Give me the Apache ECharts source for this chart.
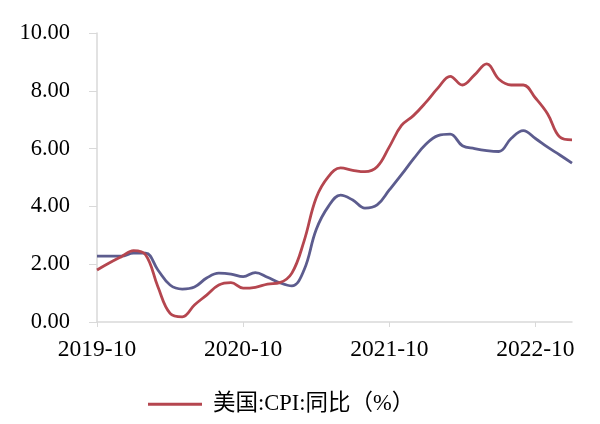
<!DOCTYPE html>
<html>
<head>
<meta charset="utf-8">
<script src="https://cdn.jsdelivr.net/npm/echarts@6/dist/echarts.min.js"></script>
<style>html,body{margin:0;padding:0;background:#fff}#c{width:600px;height:424px}</style>
</head>
<body>
<div id="c"></div>
<script>
const months = [];
(function(){let y=2019,m=10;for(let i=0;i<40;i++){months.push(y+'-'+(m<10?'0'+m:m));m++;if(m>12){m=1;y++;}}})();
const cpiName = '美国:CPI:同比（%）';
const cpi = [1.8,2.04,2.26,2.47,2.32,1.22,0.3,0.18,0.59,0.93,1.28,1.36,1.17,1.2,1.31,1.36,1.69,2.8,4.3,5.03,5.33,5.25,5.2,5.37,6.06,6.8,7.15,7.6,8.1,8.5,8.2,8.55,8.93,8.4,8.2,8.2,7.75,7.2,6.4,6.3];
const core = [2.28,2.28,2.28,2.38,2.38,1.8,1.28,1.14,1.21,1.52,1.69,1.66,1.57,1.71,1.55,1.36,1.25,1.8,3.2,4.0,4.39,4.22,3.94,4.05,4.57,5.1,5.65,6.15,6.45,6.5,6.1,6.0,5.93,5.9,6.35,6.62,6.35,6.05,5.78,5.5];
const yTicks = [0,2,4,6,8,10];
const font = '"Liberation Serif","Times New Roman","Noto Sans CJK SC",serif';
const chart = echarts.init(document.getElementById('c'));
chart.setOption({
  animation:false,
  grid:{left:97,right:28,top:33,bottom:102},
  legend:{data:[cpiName],left:143,top:388,icon:'rect',itemWidth:54,itemHeight:3,
    textStyle:{fontFamily:font,fontSize:22.5,color:'#000',padding:[0,0,0,6]}},
  xAxis:{type:'category',data:months,boundaryGap:false,
    axisLine:{lineStyle:{color:'#d9d9d9',width:1.5}},
    axisTick:{interval:11,length:5,lineStyle:{color:'#d9d9d9'}},
    axisLabel:{interval:11,margin:16,fontFamily:font,fontSize:23.5,color:'#000'}},
  yAxis:{type:'value',min:yTicks[0],max:yTicks[yTicks.length-1],interval:2,
    axisLine:{show:true,lineStyle:{color:'#d9d9d9',width:1.5}},
    axisTick:{show:true,length:8,lineStyle:{color:'#d9d9d9'}},
    splitLine:{show:false},
    axisLabel:{margin:27,fontFamily:font,fontSize:22.5,color:'#000',formatter:v=>v.toFixed(2)}},
  series:[
    {name:cpiName,type:'line',data:cpi,smooth:0.4,symbol:'none',lineStyle:{color:'#b5464f',width:2.8},itemStyle:{color:'#b5464f'},z:3},
    {name:'core',type:'line',data:core,smooth:0.4,symbol:'none',lineStyle:{color:'#5c5c8e',width:2.8},itemStyle:{color:'#5c5c8e'},z:2}
  ]
});
</script>
</body>
</html>
